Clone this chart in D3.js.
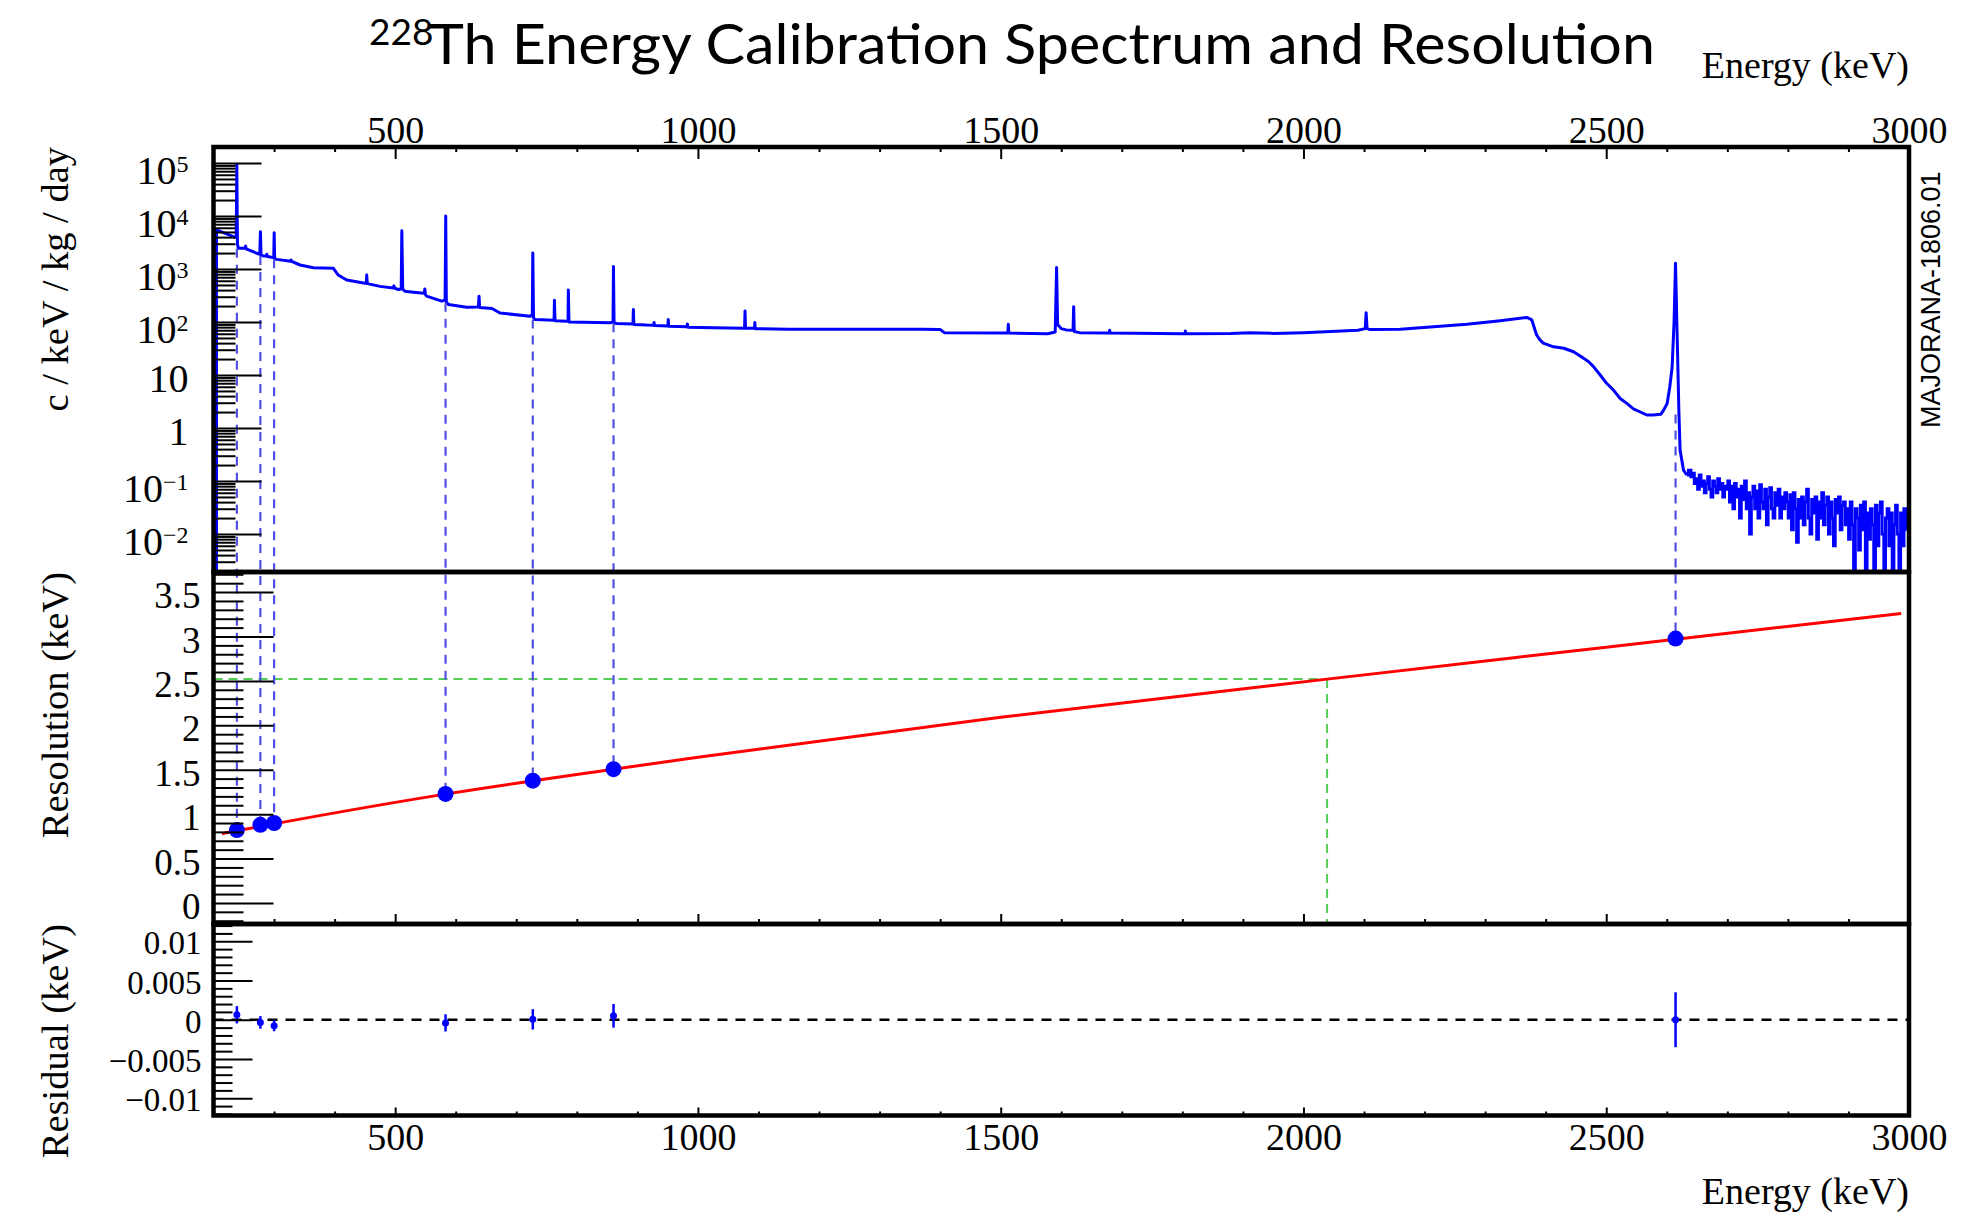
<!DOCTYPE html>
<html>
<head>
<meta charset="utf-8">
<script src="https://cdn.jsdelivr.net/npm/d3@7"></script>
<style>
body { margin: 0; background: #ffffff; }
</style>
</head>
<body>
<svg id="chart"></svg>
<script>
// calibration peaks (keV) and fitted values
const peakEnergy = [238.6, 277.4, 300.1, 583.2, 727.3, 860.6, 2614.5];
const peakResolution = [0.82, 0.88, 0.90, 1.227, 1.377, 1.506, 2.976];
const peakResidual = [0.00063, -0.00034, -0.00076, -0.0004, 0.00005, 0.0005, 0.0];
const peakResidualErr = [0.0011, 0.0008, 0.0007, 0.0011, 0.0013, 0.0015, 0.0035];
// level on the spectrum where the dashed guide of each peak starts
const peakGuideTop = [2400, 1760, 1520, 230, 112, 95, 1.8];

// resolution fit curve
const fitEnergy = [214, 300, 583, 860, 1000, 1500, 2039, 2500, 2987];
const fitResolution = [0.78, 0.89, 1.225, 1.505, 1.64, 2.09, 2.52, 2.88, 3.26];

// Q-bb marker
const qbbEnergy = 2039;
const qbbResolution = 2.52;

// spectrum (c / keV / kg / day), 205 - 2633 keV
const specEnergy = [205, 205, 236, 237.5, 238.5, 239.5, 241, 252, 253, 254, 271.5, 276.5, 277.5, 278.5, 282, 287, 288, 289,
    296, 299.5, 300.2, 301, 304.6, 327, 328, 329, 343, 365, 398, 406, 420, 450, 452.5, 453, 454, 475, 497, 498, 499,
    505, 510, 511, 512.5, 516, 530, 548, 549, 550, 552, 577, 582.5, 583.5, 584.5, 588, 618, 637.5, 638.5, 639.5,
    660, 673, 723, 726.5, 727.3, 728.5, 731, 762.5, 763, 764, 783, 785.5, 786, 787, 855, 859.8, 860.5, 861.5, 866,
    892.8, 893.4, 894.2, 915, 927, 927.6, 928.3, 950.5, 951, 951.6, 982, 982.6, 983.3, 1025, 1077, 1077.8, 1078.6,
    1093.5, 1094, 1094.6, 1150, 1250, 1370, 1400, 1407, 1511.8, 1512.6, 1513.4, 1578, 1590, 1592.3, 1594, 1600,
    1608, 1619.5, 1620.5, 1621.5, 1630, 1679.5, 1680, 1680.5, 1800, 1804.5, 1805, 1805.5, 1880, 1910, 1950, 2000,
    2090, 2102, 2103.5, 2105, 2110, 2160, 2270, 2325, 2369, 2377, 2385, 2390.5, 2396, 2404, 2413, 2430, 2446, 2463,
    2471, 2479, 2490, 2501, 2512, 2523, 2534, 2545, 2567, 2578, 2590, 2595, 2600.6, 2605, 2608.8, 2612, 2614.4, 2616,
    2617.7, 2620, 2622, 2627.6, 2633];
const specRate = [0.0001, 5450, 3960, 3960, 95000, 3000, 2460, 2500, 2700, 2400, 1980, 1900, 5060, 1850, 1760, 1760, 1900, 1720,
    1660, 1640, 4840, 1560, 1520, 1400, 1480, 1390, 1190, 1060, 1030, 770, 620, 540, 540, 770, 530, 470, 440, 480, 435,
    410, 420, 5290, 420, 380, 365, 350, 420, 330, 307, 247, 260, 10000, 240, 214, 190, 192, 307, 188,
    180, 148, 128, 140, 2000, 120, 111, 108, 257, 106, 103, 103, 400, 100, 97, 100, 1120, 96, 94,
    92, 172, 90, 87.5, 87, 98, 86, 84, 111, 83, 81, 92, 80, 78, 76, 161, 76,
    76, 98, 75, 73, 73, 73, 72, 63, 62, 91, 62, 60, 65, 1070, 90, 75,
    71, 70, 195, 66, 63, 62, 70, 62, 60, 60, 68, 60, 61, 63, 61, 63,
    70, 75, 150, 75, 72, 73, 91, 106, 122, 110, 57, 46, 40, 37, 34, 32, 27.5, 20.6,
    17.8, 14.4, 10, 6.9, 5.2, 3.6, 2.92, 2.3, 1.76, 1.76, 1.81, 2.2, 2.9, 6, 14, 100, 1280, 200,
    29, 2, 0.38, 0.16, 0.13];

// noisy tail above the 2614 keV peak, histogram bins
const tailFirstBin = 2638.5;
const tailBinWidth = 2.77;
const tailRate = [
    0.16, 0.12, 0.14, 0.09, 0.11, 0.07, 0.13, 0.08, 0.10, 0.06, 0.09, 0.12, 0.07, 0.05, 0.10, 0.08, 0.06, 0.11, 0.07,
    0.09, 0.05, 0.08,
    0.07, 0.10, 0.04, 0.08, 0.03, 0.09, 0.05, 0.07, 0.02, 0.08, 0.045, 0.10, 0.03, 0.06, 0.01, 0.05, 0.08, 0.03,
    0.065, 0.02, 0.085, 0.04, 0.03, 0.07, 0.015, 0.05, 0.075, 0.03, 0.02, 0.06, 0.035, 0.07, 0.02, 0.05, 0.03, 0.06,
    0.04, 0.02, 0.055, 0.012, 0.06, 0.03, 0.007, 0.045, 0.02, 0.05, 0.015, 0.04, 0.07, 0.02, 0.01, 0.045, 0.025, 0.05,
    0.008, 0.04, 0.02, 0.06, 0.015, 0.035, 0.05, 0.01, 0.04, 0.02, 0.006, 0.045, 0.025, 0.05, 0.012, 0.035, 0.04, 0.015,
    0.03, 0.008, 0.04, 0.015, 0, 0.03, 0.02, 0.005, 0.035, 0.012, 0.04, 0, 0.025, 0.008, 0.03, 0.015, 0, 0.035, 0.006,
    0.025, 0.04, 0.01, 0, 0.02, 0.03, 0.006, 0.025, 0, 0.015, 0.035, 0.01, 0, 0.025, 0.006, 0.03, 0.012];

// axis ticks
const xMajor = [500, 1000, 1500, 2000, 2500, 3000];
const specDecades = [1e-2, 1e-1, 1, 10, 1e2, 1e3, 1e4, 1e5];
const resMajor = [0, 0.5, 1, 1.5, 2, 2.5, 3, 3.5];
const residMajor = [-0.01, -0.005, 0, 0.005, 0.01];

let svg;
let W = 1978, H = 1219;
let frameLeft = 213.5, frameRight = 1909;
let specTop = 147, specBottom = 572, resBottom = 924, residBottom = 1115.5;

let serif = "'Liberation Serif', 'Times New Roman', serif";

let x = d3.scaleLinear().domain([200, 3000]).range([frameLeft, frameRight]);
let ySpec = d3.scaleLog().domain([0.00192, 200400]).range([specBottom, specTop]);
let yRes = d3.scaleLinear().domain([-0.237, 3.726]).range([resBottom, specBottom]);
let yResid = d3.scaleLinear().domain([-0.0122, 0.0122]).range([residBottom, resBottom]);

function drawChart() {
    svg = d3.select("#chart")
        .attr("width", W)
        .attr("height", H)
        .style("background", "#ffffff");

    drawTitles();
    drawSpectrum();
    drawResolution();
    drawResidual();
    drawGuides();
    drawAxes();
    drawFrames();
}

function drawTitles() {
    svg.append("text")
        .attr("x", 369).attr("y", 45)
        .style("font-family", "Lato, 'Open Sans', sans-serif")
        .style("font-size", "37px")
        .text("228");
    svg.append("text")
        .attr("x", 429).attr("y", 64)
        .attr("textLength", 1226)
        .attr("lengthAdjust", "spacingAndGlyphs")
        .style("font-family", "Lato, 'Open Sans', sans-serif")
        .style("font-size", "56px")
        .text("Th Energy Calibration Spectrum and Resolution");

    svg.append("text")
        .attr("x", frameRight).attr("y", 78)
        .attr("text-anchor", "end")
        .style("font-family", serif).style("font-size", "38px")
        .text("Energy (keV)");
    svg.append("text")
        .attr("x", frameRight).attr("y", 1204)
        .attr("text-anchor", "end")
        .style("font-family", serif).style("font-size", "38px")
        .text("Energy (keV)");

    let yTitles = [
        {label: "c / keV / kg / day", top: specTop},
        {label: "Resolution (keV)", top: specBottom},
        {label: "Residual (keV)", top: resBottom}
    ];
    yTitles.forEach(function (t) {
        svg.append("text")
            .attr("transform", "translate(68," + t.top + ") rotate(-90)")
            .attr("text-anchor", "end")
            .style("font-family", serif).style("font-size", "38.5px")
            .text(t.label);
    });

    svg.append("text")
        .attr("transform", "translate(1940,428) rotate(-90)")
        .style("font-family", "'Liberation Sans', Arial, sans-serif")
        .style("font-size", "27px")
        .text("MAJORANA-1806.01");
}

function drawSpectrum() {
    svg.append("clipPath").attr("id", "specClip")
        .append("rect")
        .attr("x", frameLeft).attr("y", specTop)
        .attr("width", frameRight - frameLeft).attr("height", specBottom - specTop);

    let g = svg.append("g").attr("clip-path", "url(#specClip)");

    let yVal = function (v) {
        return v > 0 ? ySpec(v) : specBottom + 20;
    };

    let pts = specEnergy.map(function (e, i) {
        return [x(e), yVal(specRate[i])];
    });
    g.append("path")
        .attr("d", d3.line()(pts))
        .attr("fill", "none")
        .attr("stroke", "#0000ff")
        .attr("stroke-width", 3)
        .attr("stroke-linejoin", "round");

    let last = specEnergy.length - 1;
    let tailPts = [[x(specEnergy[last]), yVal(specRate[last])]];
    tailRate.forEach(function (v, i) {
        tailPts.push([x(tailFirstBin + i * tailBinWidth), yVal(v)]);
    });
    g.append("path")
        .attr("d", d3.line().curve(d3.curveStep)(tailPts))
        .attr("fill", "none")
        .attr("stroke", "#0000ff")
        .attr("stroke-width", 3);
}

function drawResolution() {
    // Q-bb guide
    svg.append("line")
        .attr("x1", frameLeft).attr("x2", x(qbbEnergy))
        .attr("y1", yRes(qbbResolution)).attr("y2", yRes(qbbResolution))
        .attr("stroke", "#55cc55").attr("stroke-width", 2)
        .attr("stroke-dasharray", "9,6");
    svg.append("line")
        .attr("x1", x(qbbEnergy)).attr("x2", x(qbbEnergy))
        .attr("y1", yRes(qbbResolution)).attr("y2", resBottom)
        .attr("stroke", "#55cc55").attr("stroke-width", 2)
        .attr("stroke-dasharray", "9,6");

    let fitPts = fitEnergy.map(function (e, i) {
        return [x(e), yRes(fitResolution[i])];
    });
    svg.append("path")
        .attr("d", d3.line().curve(d3.curveMonotoneX)(fitPts))
        .attr("fill", "none")
        .attr("stroke", "#ff0000")
        .attr("stroke-width", 3);
}

function drawGuides() {
    // dashed lines from each spectrum peak down to its resolution point
    svg.selectAll(".guide").data(peakEnergy)
        .enter()
        .append("line")
        .attr("class", "guide")
        .attr("x1", function (d) { return x(d); })
        .attr("x2", function (d) { return x(d); })
        .attr("y1", function (d, i) { return ySpec(peakGuideTop[i]); })
        .attr("y2", function (d, i) { return yRes(peakResolution[i]); })
        .attr("stroke", "#5050e0")
        .attr("stroke-width", 2.2)
        .attr("stroke-dasharray", "9,7");

    svg.selectAll(".resPoint").data(peakEnergy)
        .enter()
        .append("circle")
        .attr("class", "resPoint")
        .attr("cx", function (d) { return x(d); })
        .attr("cy", function (d, i) { return yRes(peakResolution[i]); })
        .attr("r", 8)
        .attr("fill", "#0000ff");
}

function drawResidual() {
    svg.append("line")
        .attr("x1", frameLeft).attr("x2", frameRight)
        .attr("y1", yResid(0)).attr("y2", yResid(0))
        .attr("stroke", "#000000").attr("stroke-width", 2.5)
        .attr("stroke-dasharray", "10,8");

    svg.selectAll(".residErr").data(peakEnergy)
        .enter()
        .append("line")
        .attr("class", "residErr")
        .attr("x1", function (d) { return x(d); })
        .attr("x2", function (d) { return x(d); })
        .attr("y1", function (d, i) { return yResid(peakResidual[i] + peakResidualErr[i]); })
        .attr("y2", function (d, i) { return yResid(peakResidual[i] - peakResidualErr[i]); })
        .attr("stroke", "#0000ff").attr("stroke-width", 2.5);

    svg.selectAll(".residPoint").data(peakEnergy)
        .enter()
        .append("circle")
        .attr("class", "residPoint")
        .attr("cx", function (d) { return x(d); })
        .attr("cy", function (d, i) { return yResid(peakResidual[i]); })
        .attr("r", 3.5)
        .attr("fill", "#0000ff");
}

function styleAxis(g, size) {
    g.select(".domain").remove();
    g.attr("font-family", serif).attr("font-size", size);
    g.selectAll(".tick line").attr("stroke-width", 2);
}

function drawAxes() {
    let xMinor = d3.range(300, 3000, 100).filter(function (v) { return v % 500 !== 0; });
    let xFmt = d3.format("d");

    // energy axis on top of the spectrum
    svg.append("g")
        .attr("transform", "translate(0," + specTop + ")")
        .call(d3.axisTop(x).tickValues(xMajor).tickSizeInner(-12).tickSizeOuter(0).tickPadding(4).tickFormat(xFmt))
        .call(styleAxis, 38);
    svg.append("g")
        .attr("transform", "translate(0," + specTop + ")")
        .call(d3.axisTop(x).tickValues(xMinor).tickSizeInner(-5).tickSizeOuter(0).tickFormat(""))
        .call(styleAxis, 38);

    // ticks under the resolution panel
    svg.append("g")
        .attr("transform", "translate(0," + resBottom + ")")
        .call(d3.axisBottom(x).tickValues(xMajor).tickSizeInner(-10).tickSizeOuter(0).tickFormat(""))
        .call(styleAxis, 38);
    svg.append("g")
        .attr("transform", "translate(0," + resBottom + ")")
        .call(d3.axisBottom(x).tickValues(xMinor).tickSizeInner(-5).tickSizeOuter(0).tickFormat(""))
        .call(styleAxis, 38);

    // bottom energy axis
    svg.append("g")
        .attr("transform", "translate(0," + residBottom + ")")
        .call(d3.axisBottom(x).tickValues(xMajor).tickSizeInner(-8).tickSizeOuter(0).tickPadding(8).tickFormat(xFmt))
        .call(styleAxis, 38);
    svg.append("g")
        .attr("transform", "translate(0," + residBottom + ")")
        .call(d3.axisBottom(x).tickValues(xMinor).tickSizeInner(-4).tickSizeOuter(0).tickFormat(""))
        .call(styleAxis, 38);

    // log axis of the spectrum
    let specMinor = [];
    for (let k = -3; k <= 5; k++) {
        for (let m = 2; m <= 9; m++) {
            let v = m * Math.pow(10, k);
            if (v > ySpec.domain()[0] && v < ySpec.domain()[1]) {
                specMinor.push(v);
            }
        }
    }
    let specAxis = svg.append("g")
        .attr("transform", "translate(" + frameLeft + ",0)")
        .call(d3.axisLeft(ySpec).tickValues(specDecades).tickSizeInner(-48).tickSizeOuter(0)
            .tickPadding(25).tickFormat(""))
        .call(styleAxis, 40);
    specAxis.selectAll(".tick text").each(function (d) {
        let ex = Math.round(Math.log10(d));
        let t = d3.select(this);
        if (ex === 0) {
            t.attr("dy", "0.42em").text("1");
        } else if (ex === 1) {
            t.attr("dy", "0.42em").text("10");
        } else {
            t.attr("dy", "0.52em");
            t.append("tspan").text("10");
            t.append("tspan")
                .attr("dy", "-0.5em")
                .attr("font-size", 24)
                .text(ex < 0 ? "\u2212" + (-ex) : String(ex));
        }
    });
    svg.append("g")
        .attr("transform", "translate(" + frameLeft + ",0)")
        .call(d3.axisLeft(ySpec).tickValues(specMinor).tickSizeInner(-22).tickSizeOuter(0).tickFormat(""))
        .call(styleAxis, 40);

    // resolution axis
    let resMinor = d3.range(-2, 38).map(function (v) { return v / 10; })
        .filter(function (v) { return Math.round(v * 10) % 5 !== 0; });
    let resAxis = svg.append("g")
        .attr("transform", "translate(" + frameLeft + ",0)")
        .call(d3.axisLeft(yRes).tickValues(resMajor).tickSizeInner(-60).tickSizeOuter(0)
            .tickPadding(13).tickFormat(d3.format("")))
        .call(styleAxis, 37);
    resAxis.selectAll(".tick text").attr("dy", "0.42em");
    svg.append("g")
        .attr("transform", "translate(" + frameLeft + ",0)")
        .call(d3.axisLeft(yRes).tickValues(resMinor).tickSizeInner(-30).tickSizeOuter(0).tickFormat(""))
        .call(styleAxis, 37);

    // residual axis
    let residMinor = d3.range(-12, 13).map(function (v) { return v / 1000; })
        .filter(function (v) { return Math.round(v * 1000) % 5 !== 0; });
    let residAxis = svg.append("g")
        .attr("transform", "translate(" + frameLeft + ",0)")
        .call(d3.axisLeft(yResid).tickValues(residMajor).tickSizeInner(-39).tickSizeOuter(0)
            .tickPadding(12).tickFormat(function (d) {
                if (d === 0) return "0";
                return (d < 0 ? "\u2212" : "") + String(Math.abs(d));
            }))
        .call(styleAxis, 33);
    residAxis.selectAll(".tick text").attr("dy", "0.38em");
    svg.append("g")
        .attr("transform", "translate(" + frameLeft + ",0)")
        .call(d3.axisLeft(yResid).tickValues(residMinor).tickSizeInner(-19).tickSizeOuter(0).tickFormat(""))
        .call(styleAxis, 33);
}

function drawFrames() {
    [[specTop, specBottom], [specBottom, resBottom], [resBottom, residBottom]].forEach(function (p) {
        svg.append("rect")
            .attr("x", frameLeft).attr("y", p[0])
            .attr("width", frameRight - frameLeft)
            .attr("height", p[1] - p[0])
            .attr("fill", "none")
            .attr("stroke", "#000000")
            .attr("stroke-width", 4.5);
    });
}

drawChart();
</script>
</body>
</html>
